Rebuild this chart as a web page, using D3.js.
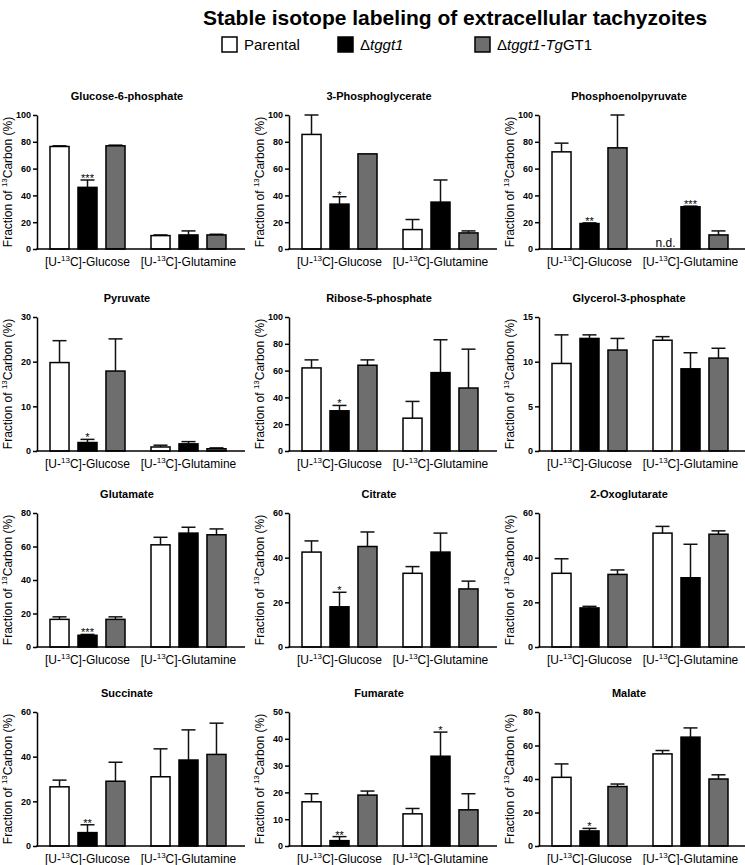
<!DOCTYPE html>
<html><head><meta charset="utf-8">
<script src="https://cdn.jsdelivr.net/npm/d3@7"></script>
<style>
body{margin:0;background:#fff}
svg{display:block}
text{font-family:"Liberation Sans",Arial,sans-serif}
</style>
</head><body><svg id="c" width="745" height="865"></svg>
<script>
// ---------- DATA ----------
const metabolites = ["Glucose-6-phosphate","3-Phosphoglycerate","Phosphoenolpyruvate",
  "Pyruvate","Ribose-5-phosphate","Glycerol-3-phosphate",
  "Glutamate","Citrate","2-Oxoglutarate",
  "Succinate","Fumarate","Malate"];
const groups = ["Glucose","Glutamine"];
const seriesNames = ["Parental","Δtggt1","Δtggt1-TgGT1"];
const yMax  = [100,100,100,30,100,15,80,60,60,60,50,80];
const yStep = [20,20,20,10,20,5,20,20,20,20,10,20];
// [glucose, glutamine] per metabolite
const parentalMean = [[76.5,10],[85.5,14.5],[72.5,null],[19.8,0.9],[62,24.5],[9.8,12.4],[16.5,61],[42.5,33],[33,51],[26.5,31],[16.5,12],[41,55]];
const parentalErr  = [[0.5,0.5],[14.5,7.5],[6.5,null],[4.9,0.4],[6,12.5],[3.2,0.4],[1.5,4.5],[5,3],[6.5,3],[3,12.5],[3,2],[8,2]];
const mutantMean   = [[46,10.5],[33.5,35],[19,31.5],[1.9,1.6],[30,58.5],[12.6,9.2],[7,68],[18,42.5],[17.5,31],[6,38.5],[2,33.5],[9,65]];
const mutantErr    = [[5.5,3],[5.5,16.5],[0.5,0.5],[0.7,0.5],[4,24.5],[0.4,1.8],[0.5,3.5],[6.5,8.5],[0.7,15],[3.5,13.5],[1.5,9],[1.5,5.5]];
const compMean     = [[77,10.5],[71,12],[75.5,10.5],[17.9,0.5],[64,47],[11.3,10.4],[16.5,67],[45,26],[32.5,50.5],[29,41],[19,13.5],[35.5,40]];
const compErr      = [[0.5,0.5],[0,1.5],[24.5,3],[7.2,0.2],[4,29],[1.3,1.1],[1.5,3.5],[6.5,3.5],[2,1.5],[8.5,14],[1.5,6],[1.5,2.5]];
const mutantSig    = [["***",""],["*",""],["**","***"],["*",""],["*",""],["",""],["***",""],["*",""],["",""],["**",""],["**","*"],["*",""]];
const seriesColors = ["#ffffff","#000000","#6e6e6e"];

// ---------- LAYOUT ----------
const svg = d3.select("#c");
const colX = [37, 289, 539];
const rowTop = [115, 317, 513, 712];
const plotH = 134, axisW = 208;

// title
svg.append("text").attr("x",455).attr("y",25).attr("text-anchor","middle")
  .attr("font-size",21).attr("font-weight","bold")
  .text("Stable isotope labeling of extracellular tachyzoites");

// legend
const legX = [222, 338, 475];
seriesNames.forEach((s,k)=>{
  const lg = svg.append("g").attr("transform",`translate(${legX[k]},37)`);
  lg.append("rect").attr("width",15).attr("height",15).attr("fill",seriesColors[k])
    .attr("stroke","#000").attr("stroke-width",1.5);
  const t = lg.append("text").attr("x",22).attr("y",13).attr("font-size",15);
  if(k===0){ t.text(s); }
  else if(k===1){ t.append("tspan").text("Δ"); t.append("tspan").attr("font-style","italic").text("tggt1"); }
  else { t.append("tspan").text("Δ"); t.append("tspan").attr("font-style","italic").text("tggt1-Tg"); t.append("tspan").text("GT1"); }
});

const meanArr = [parentalMean, mutantMean, compMean];
const errArr = [parentalErr, mutantErr, compErr];

metabolites.forEach((name,i)=>{
  const r = Math.floor(i/3), c = i%3;
  const g = svg.append("g").attr("transform",`translate(${colX[c]},${rowTop[r]})`);
  const y = d3.scaleLinear().domain([0,yMax[i]]).range([plotH,0]);
  const x0 = d3.scaleBand().domain(groups).range([0,202]);
  const x1 = d3.scaleBand().domain(seriesNames).range([0,75]).paddingInner(0.32);
  const bw = x1.bandwidth();

  // panel title
  g.append("text").attr("x",90).attr("y",-15).attr("text-anchor","middle")
    .attr("font-size",11).attr("font-weight","bold").text(name);

  // bars
  groups.forEach((gr,gi)=>{
    const gx = x0(gr) + x0.bandwidth()/2 - 37.5;
    seriesNames.forEach((s,k)=>{
      const m = meanArr[k][i][gi], e = errArr[k][i][gi];
      const bx = gx + x1(s);
      const cx = bx + bw/2;
      if(m===null){
        g.append("text").attr("x",cx+3).attr("y",plotH-2).attr("text-anchor","middle")
          .attr("font-size",12).text("n.d.");
        return;
      }
      // error bar (upper only)
      if(e>0){
        g.append("line").attr("x1",cx).attr("x2",cx).attr("y1",y(m)).attr("y2",y(m+e))
          .attr("stroke","#111").attr("stroke-width",1.5);
        g.append("line").attr("x1",cx-7).attr("x2",cx+7).attr("y1",y(m+e)).attr("y2",y(m+e))
          .attr("stroke","#111").attr("stroke-width",1.5);
      }
      g.append("rect").attr("x",bx).attr("y",y(m)).attr("width",bw).attr("height",plotH-y(m))
        .attr("fill",seriesColors[k]).attr("stroke","#000").attr("stroke-width",1.5);
      if(k===1 && mutantSig[i][gi]){
        g.append("text").attr("x",cx).attr("y",y(m+e)+2).attr("text-anchor","middle")
          .attr("font-size",11).text(mutantSig[i][gi]);
      }
    });
    // category label
    const lt = g.append("text").attr("x",x0(gr)+x0.bandwidth()/2).attr("y",plotH+17)
      .attr("text-anchor","middle").attr("font-size",12);
    lt.append("tspan").text("[U-");
    lt.append("tspan").attr("font-size",8).attr("dy",-5).text("13");
    lt.append("tspan").attr("dy",5).text("C]-"+gr);
  });

  // y axis
  const ya = g.append("g").call(d3.axisLeft(y)
    .tickValues(d3.range(0, yMax[i]+yStep[i]/2, yStep[i]))
    .tickSize(4).tickSizeOuter(0).tickPadding(2));
  ya.select(".domain").attr("stroke","#000").attr("stroke-width",1.5);
  ya.selectAll(".tick line").attr("stroke","#000").attr("stroke-width",1.5);
  ya.selectAll(".tick text").attr("font-size",9).attr("font-weight","bold")
    .attr("font-family","'Liberation Sans',Arial,sans-serif").attr("fill","#000");

  // x axis line
  g.append("line").attr("x1",-0.75).attr("x2",axisW).attr("y1",plotH).attr("y2",plotH)
    .attr("stroke","#000").attr("stroke-width",1.5);

  // y label
  const yl = g.append("text").attr("transform",`translate(-25,${plotH/2}) rotate(-90)`)
    .attr("text-anchor","middle").attr("font-size",12);
  yl.append("tspan").text("Fraction of ");
  yl.append("tspan").attr("font-size",8).attr("dy",-5).text("13");
  yl.append("tspan").attr("dy",5).text("Carbon (%)");
});
</script>
</body></html>
